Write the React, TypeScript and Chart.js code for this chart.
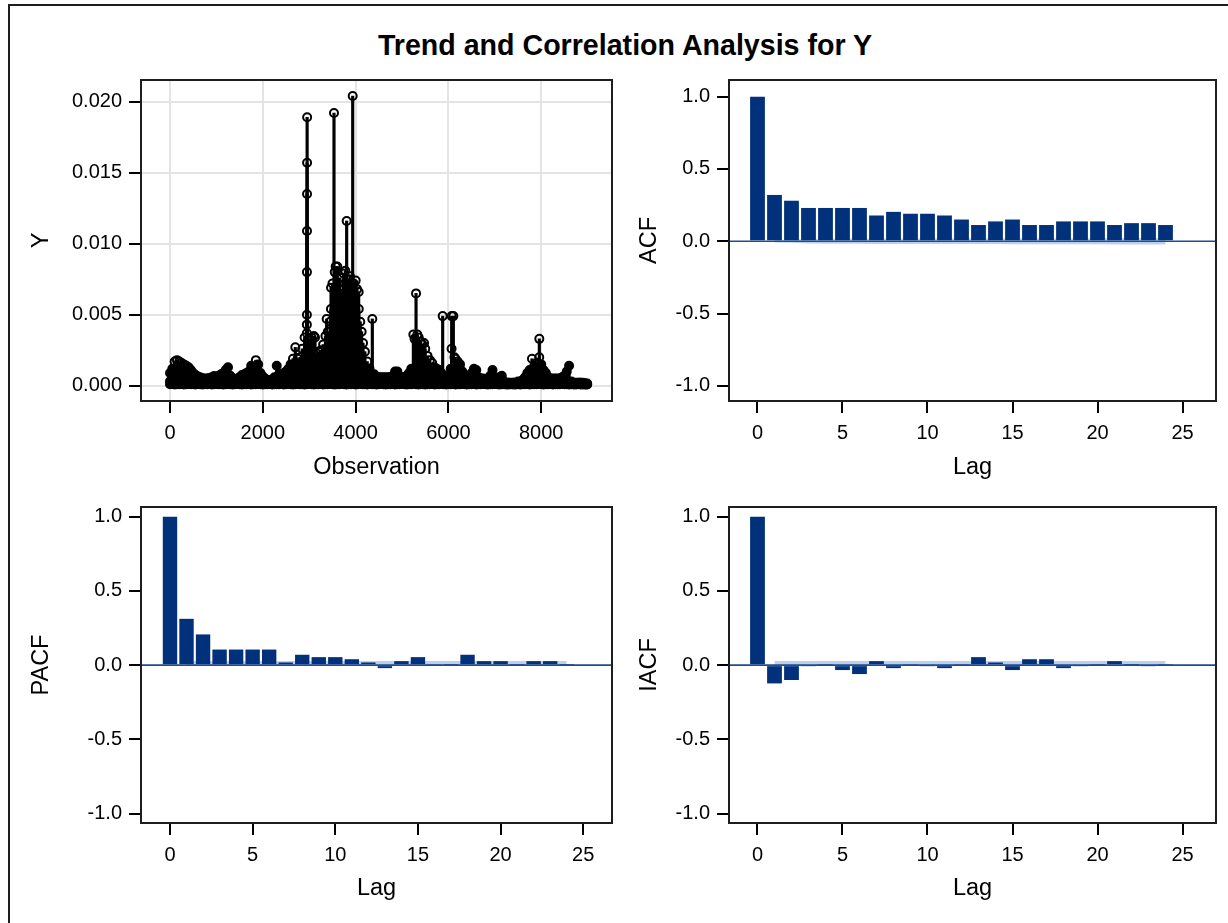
import { useEffect, useRef } from "react";
import { Chart, registerables } from "chart.js";

Chart.register(...registerables);

const FONT = "'Liberation Sans', Arial, Helvetica, sans-serif";
const BAR = "#00317a";
const BAND = "#bdd0ea";
const ZERO = "#1f4a94";
const GRID = "#e4e4e4";

// ---- Trend panel: observation index / Y value ----
const trendPoints: [number, number][] = [
  [0, 0.0009], [50, 0.0012], [100, 0.0017], [150, 0.0018], [200, 0.0017], [250, 0.0016], [300, 0.0015], [350, 0.0014], [400, 0.0013], [450, 0.0011],
  [500, 0.0009], [550, 0.00075], [600, 0.00065], [650, 0.0006], [700, 0.00052], [750, 0.0005], [800, 0.0005], [850, 0.00055], [900, 0.0006], [950, 0.00068],
  [1000, 0.0006], [1050, 0.0007], [1100, 0.0008], [1150, 0.0009], [1200, 0.0011], [1250, 0.0013], [1300, 0.0007], [1350, 0.0005], [1400, 0.0004], [1450, 0.0005],
  [1500, 0.0006], [1550, 0.00075], [1600, 0.0008], [1650, 0.0009], [1700, 0.001], [1750, 0.0014], [1800, 0.0012], [1850, 0.0018], [1900, 0.0015], [1950, 0.0009],
  [2000, 0.00065], [2050, 0.0005], [2100, 0.0004], [2150, 0.0004], [2200, 0.0004], [2250, 0.0006], [2300, 0.0014], [2350, 0.0008], [2400, 0.0008], [2450, 0.0009],
  [2500, 0.001], [2550, 0.0012], [2600, 0.0015], [2650, 0.0019], [2700, 0.0027], [2750, 0.0019], [2800, 0.002], [2850, 0.0026], [2900, 0.0034],
  [2948, 0.0037], [2949, 0.0043], [2950, 0.005], [2951, 0.008], [2952, 0.0109], [2953, 0.0135], [2954, 0.0157], [2955, 0.0189],
  [3000, 0.0033], [3050, 0.0034], [3100, 0.0035], [3125, 0.0034], [3150, 0.0023], [3200, 0.0024], [3250, 0.0025], [3300, 0.0029], [3350, 0.0035],
  [3376, 0.0047], [3400, 0.0038], [3450, 0.0045], [3468, 0.0054], [3470, 0.0069], [3500, 0.0072], [3534, 0.0192], [3550, 0.008], [3570, 0.0084],
  [3606, 0.0084], [3630, 0.0072], [3660, 0.0076], [3700, 0.0068], [3740, 0.0079], [3778, 0.0081], [3807, 0.0116], [3830, 0.0072], [3860, 0.0075],
  [3879, 0.0077], [3910, 0.007], [3937, 0.0204], [3960, 0.0072], [4001, 0.0074], [4030, 0.0068], [4066, 0.0066], [4068, 0.0054],
  [4100, 0.0045], [4130, 0.0038], [4160, 0.003], [4200, 0.0024], [4250, 0.0017], [4300, 0.0012], [4360, 0.0047], [4400, 0.0008], [4450, 0.0006],
  [4500, 0.0006], [4550, 0.0006], [4600, 0.0006], [4650, 0.0006], [4700, 0.0006], [4750, 0.0006], [4800, 0.0007], [4850, 0.001], [4900, 0.001], [4950, 0.0006],
  [5000, 0.0006], [5050, 0.0006], [5100, 0.0007], [5150, 0.0009], [5200, 0.0012], [5244, 0.0036], [5270, 0.0033], [5302, 0.0065], [5330, 0.0036],
  [5360, 0.0034], [5400, 0.0031], [5440, 0.0029], [5475, 0.003], [5500, 0.0026], [5550, 0.0021], [5600, 0.0018], [5650, 0.0016], [5700, 0.0013],
  [5750, 0.0012], [5800, 0.0011], [5850, 0.0009], [5876, 0.0049], [5900, 0.0006], [5950, 0.0006],
  [6000, 0.0007], [6050, 0.0012], [6068, 0.0026], [6070, 0.0049], [6106, 0.0049], [6130, 0.002], [6150, 0.0019], [6200, 0.0017], [6250, 0.0015],
  [6300, 0.001], [6350, 0.0006], [6400, 0.0005], [6450, 0.0006], [6500, 0.0009], [6550, 0.0012], [6600, 0.0011], [6650, 0.0006], [6700, 0.0005],
  [6750, 0.0005], [6800, 0.0004], [6850, 0.0005], [6900, 0.0007], [6950, 0.0011], [7000, 0.0006], [7050, 0.0005], [7100, 0.0006], [7150, 0.0007],
  [7200, 0.0003], [7250, 0.0002], [7300, 0.0002], [7350, 0.0002], [7400, 0.0002], [7450, 0.0002], [7500, 0.0003], [7550, 0.0003], [7600, 0.0004],
  [7650, 0.0006], [7700, 0.0009], [7750, 0.0011], [7800, 0.0019], [7850, 0.0014], [7900, 0.0016], [7957, 0.002], [7959, 0.0033],
  [8000, 0.0015], [8050, 0.0011], [8100, 0.0009], [8150, 0.0006], [8200, 0.0005], [8250, 0.0005], [8300, 0.0005], [8350, 0.0005], [8400, 0.0005],
  [8450, 0.0006], [8500, 0.0007], [8550, 0.001], [8600, 0.0014], [8650, 0.0003], [8700, 0.0002], [8750, 0.0002], [8800, 0.0002], [8850, 0.0002],
  [8900, 0.0002], [8950, 0.0001], [8990, 0.0001],
];

// low-level observations forming the dense dark base band
const baseObs = [
  0, 50, 100, 150, 200, 250, 300, 350, 400, 450,
  500, 550, 600, 650, 700, 750, 800, 850, 900, 950,
  1000, 1050, 1100, 1150, 1200, 1250, 1300, 1350, 1400, 1450,
  1500, 1550, 1600, 1650, 1700, 1750, 1800, 1850, 1900, 1950,
  2000, 2050, 2100, 2150, 2200, 2250, 2300, 2350, 2400, 2450,
  2500, 2550, 2600, 2650, 2700, 2750, 2800, 2850, 2900, 2950,
  3000, 3050, 3100, 3150, 3200, 3250, 3300, 3350, 3400, 3450,
  3500, 3550, 3600, 3650, 3700, 3750, 3800, 3850, 3900, 3950,
  4000, 4050, 4100, 4150, 4200, 4250, 4300, 4350, 4400, 4450,
  4500, 4550, 4600, 4650, 4700, 4750, 4800, 4850, 4900, 4950,
  5000, 5050, 5100, 5150, 5200, 5250, 5300, 5350, 5400, 5450,
  5500, 5550, 5600, 5650, 5700, 5750, 5800, 5850, 5900, 5950,
  6000, 6050, 6100, 6150, 6200, 6250, 6300, 6350, 6400, 6450,
  6500, 6550, 6600, 6650, 6700, 6750, 6800, 6850, 6900, 6950,
  7000, 7050, 7100, 7150, 7200, 7250, 7300, 7350, 7400, 7450,
  7500, 7550, 7600, 7650, 7700, 7750, 7800, 7850, 7900, 7950,
  8000, 8050, 8100, 8150, 8200, 8250, 8300, 8350, 8400, 8450,
  8500, 8550, 8600, 8650, 8700, 8750, 8800, 8850, 8900, 8950,
  8990,
];
const baseLowA = [
  0.0001, 0.00012, 0.00009, 0.00011, 0.0001, 0.00013, 0.00009, 0.0001, 0.00012, 0.0001,
  0.00011, 0.00009, 0.00012, 0.0001, 0.00008, 0.00011, 0.0001, 0.00012, 0.00009, 0.0001,
  0.00012, 0.0001, 0.00011, 0.00009, 0.0001, 0.00012, 0.00011, 0.00009, 0.0001, 0.00012,
  0.0001, 0.00009, 0.00011, 0.0001, 0.00012, 0.00009, 0.0001, 0.00011, 0.00012, 0.0001,
  0.00009, 0.00011, 0.0001, 0.00012, 0.00009, 0.0001, 0.00011, 0.0001, 0.00012, 0.00009,
  0.0001, 0.00012, 0.00011, 0.00009, 0.0001, 0.00012, 0.0001, 0.00011, 0.00009, 0.0001,
  0.00012, 0.0001, 0.00009, 0.00011, 0.0001, 0.00012, 0.00009, 0.0001, 0.00011, 0.00012,
  0.0001, 0.00009, 0.00011, 0.0001, 0.00012, 0.0001, 0.00009, 0.00011, 0.0001, 0.00012,
  0.00009, 0.0001, 0.00012, 0.00011, 0.0001, 0.00009, 0.00012, 0.0001, 0.00011, 0.00009,
  0.0001, 0.00012, 0.0001, 0.00009, 0.00011, 0.0001, 0.00012, 0.00009, 0.0001, 0.00011,
  0.00012, 0.0001, 0.00009, 0.00011, 0.0001, 0.00012, 0.0001, 0.00009, 0.00011, 0.0001,
  0.00009, 0.00011, 0.0001, 0.00012, 0.00009, 0.0001, 0.00011, 0.00012, 0.0001, 0.00009,
  0.00011, 0.0001, 0.00012, 0.00009, 0.0001, 0.00011, 0.00012, 0.0001, 0.00009, 0.00011,
  0.0001, 0.00012, 0.00009, 0.0001, 0.00011, 0.00012, 0.0001, 0.00009, 0.00011, 0.0001,
  0.00012, 0.0001, 0.00009, 0.00011, 0.0001, 0.00009, 0.00008, 0.0001, 0.00009, 0.00008,
  0.0001, 0.00009, 0.00011, 0.0001, 0.00012, 0.00009, 0.0001, 0.00011, 0.0001, 0.00012,
  0.0001, 0.00009, 0.00011, 0.0001, 0.00012, 0.00009, 0.0001, 0.00011, 0.0001, 0.00012,
  0.0001, 0.00011, 0.00009, 0.0001, 0.00009, 0.00008, 0.0001, 0.00009, 0.00008, 0.00009,
  0.00008,
];
const baseLowB = [
  0.00032, 0.0003, 0.00035, 0.00028, 0.00033, 0.0003, 0.00034, 0.00029, 0.00031, 0.00033,
  0.0003, 0.00034, 0.00029, 0.00032, 0.0003, 0.00033, 0.00028, 0.00031, 0.00034, 0.0003,
  0.00033, 0.00029, 0.00031, 0.00034, 0.0003, 0.00032, 0.00035, 0.00029, 0.0003, 0.00033,
  0.00031, 0.00034, 0.0003, 0.00032, 0.00029, 0.00033, 0.00031, 0.0003, 0.00034, 0.00032,
  0.0003, 0.00033, 0.00029, 0.00031, 0.0003, 0.00034, 0.00032, 0.0003, 0.00033, 0.00031,
  0.00034, 0.0003, 0.00032, 0.00035, 0.00031, 0.00033, 0.0003, 0.00034, 0.00032, 0.00031,
  0.00033, 0.0003, 0.00034, 0.00031, 0.00032, 0.0003, 0.00033, 0.00035, 0.00031, 0.00034,
  0.00032, 0.0003, 0.00033, 0.00034, 0.00031, 0.00032, 0.0003, 0.00033, 0.00034, 0.00031,
  0.00032, 0.00034, 0.0003, 0.00033, 0.00031, 0.00032, 0.0003, 0.00034, 0.00031, 0.00033,
  0.0003, 0.00032, 0.00034, 0.00031, 0.0003, 0.00033, 0.00032, 0.0003, 0.00034, 0.00031,
  0.00033, 0.0003, 0.00032, 0.00034, 0.00031, 0.00033, 0.0003, 0.00032, 0.00034, 0.00031,
  0.0003, 0.00033, 0.00032, 0.0003, 0.00034, 0.00031, 0.00033, 0.0003, 0.00032, 0.00031,
  0.00033, 0.0003, 0.00034, 0.00032, 0.00031, 0.00033, 0.0003, 0.00032, 0.00031, 0.00033,
  0.0003, 0.00032, 0.00034, 0.00031, 0.0003, 0.00029, 0.00028, 0.0003, 0.00031, 0.00032,
  0.0003, 0.00029, 0.0003, 0.00028, 0.00022, 0.0002, 0.0002, 0.00019, 0.0002, 0.0002,
  0.00022, 0.00024, 0.0003, 0.00031, 0.00033, 0.0003, 0.00032, 0.00034, 0.00031, 0.00033,
  0.0003, 0.00032, 0.00031, 0.0003, 0.00029, 0.00031, 0.0003, 0.00028, 0.0003, 0.00031,
  0.0003, 0.00032, 0.0003, 0.0002, 0.0002, 0.00019, 0.0002, 0.0002, 0.00019, 0.00018,
  0.00015,
];

// ---- Correlation panels ----
const lags = [0, 1, 2, 3, 4, 5, 6, 7, 8, 9, 10, 11, 12, 13, 14, 15, 16, 17, 18, 19, 20, 21, 22, 23, 24];
const acfValues = [1.0, 0.32, 0.28, 0.23, 0.23, 0.23, 0.23, 0.178, 0.203, 0.19, 0.19, 0.178, 0.15, 0.112, 0.137, 0.15, 0.112, 0.112, 0.137, 0.137, 0.137, 0.112, 0.125, 0.125, 0.112];
const pacfValues = [1.0, 0.312, 0.207, 0.105, 0.105, 0.105, 0.105, 0.018, 0.07, 0.054, 0.054, 0.04, 0.018, -0.02, 0.027, 0.054, 0.004, 0.002, 0.07, 0.027, 0.027, 0.003, 0.027, 0.027, 0.002];
const iacfValues = [1.0, -0.123, -0.1, -0.004, 0.003, -0.033, -0.06, 0.027, -0.02, 0.004, -0.003, -0.02, 0.004, 0.054, 0.018, -0.033, 0.04, 0.04, -0.02, -0.003, 0.003, 0.027, 0.002, -0.002, 0.003];

// two-standard-error bands (lags 1..24)
const bandLags = [1, 2, 3, 4, 5, 6, 7, 8, 9, 10, 11, 12, 13, 14, 15, 16, 17, 18, 19, 20, 21, 22, 23, 24];
const acfBandLower = [-0.008, -0.01, -0.016, -0.017, -0.018, -0.018, -0.019, -0.019, -0.019, -0.02, -0.02, -0.02, -0.02, -0.02, -0.021, -0.021, -0.021, -0.021, -0.021, -0.021, -0.022, -0.022, -0.022, -0.022];
const acfBandUpper = [0.008, 0.01, 0.016, 0.017, 0.018, 0.018, 0.019, 0.019, 0.019, 0.02, 0.02, 0.02, 0.02, 0.02, 0.021, 0.021, 0.021, 0.021, 0.021, 0.021, 0.022, 0.022, 0.022, 0.022];
const wnBandUpper = [0.028, 0.028, 0.028, 0.028, 0.028, 0.028, 0.028, 0.028, 0.028, 0.028, 0.028, 0.028, 0.028, 0.028, 0.028, 0.028, 0.028, 0.028, 0.028, 0.028, 0.028, 0.028, 0.028, 0.028];
const wnBandLower = [-0.003, -0.003, -0.003, -0.003, -0.003, -0.003, -0.003, -0.003, -0.003, -0.003, -0.003, -0.003, -0.003, -0.003, -0.003, -0.003, -0.003, -0.003, -0.003, -0.003, -0.003, -0.003, -0.003, -0.003];

// ---- tick labels ----
const obsTicks = [0, 2000, 4000, 6000, 8000];
const yTicks = [0, 0.005, 0.01, 0.015, 0.02];
const lagTicks = [0, 5, 10, 15, 20, 25];
const corrTicks = [-1, -0.5, 0, 0.5, 1];

const framePlugin = {
  id: "frame",
  afterDraw(chart: any) {
    const { ctx, chartArea: a } = chart;
    ctx.save();
    ctx.strokeStyle = "#1e1e1e";
    ctx.lineWidth = 2;
    ctx.strokeRect(a.left, a.top, a.right - a.left, a.bottom - a.top);
    ctx.restore();
  },
};

const zeroLinePlugin = {
  id: "zeroLine",
  afterDatasetsDraw(chart: any) {
    const { ctx, chartArea: a } = chart;
    const y = chart.scales.y.getPixelForValue(0);
    ctx.save();
    ctx.beginPath();
    ctx.moveTo(a.left, y);
    ctx.lineTo(a.right, y);
    ctx.strokeStyle = ZERO;
    ctx.lineWidth = 1.6;
    ctx.stroke();
    ctx.restore();
  },
};

function axisX(min: number, max: number, ticks: number[], fmt: (v: number) => string, title: string, height: number, titlePad: number, grid: boolean) {
  return {
    type: "linear",
    min,
    max,
    offset: false,
    afterBuildTicks: (s: any) => {
      s.ticks = ticks.map((v) => ({ value: v }));
    },
    afterFit: (s: any) => {
      s.height = height;
    },
    grid: { offset: false, display: true, drawOnChartArea: grid, color: GRID, lineWidth: 2, drawTicks: true, tickLength: 12, tickColor: "#000", tickWidth: 2 },
    border: { display: false },
    ticks: { autoSkip: false, maxRotation: 0, minRotation: 0, padding: 8, color: "#000", font: { family: FONT, size: 20 }, callback: (v: any) => fmt(Number(v)) },
    title: { display: true, text: title, color: "#000", font: { family: FONT, size: 23.5 }, padding: { top: 0, bottom: titlePad } },
  };
}

function axisY(min: number, max: number, ticks: number[], fmt: (v: number) => string, title: string, width: number, titlePad: number, grid: boolean) {
  return {
    type: "linear",
    min,
    max,
    afterBuildTicks: (s: any) => {
      s.ticks = ticks.map((v) => ({ value: v }));
    },
    afterFit: (s: any) => {
      s.width = width;
    },
    grid: { display: true, drawOnChartArea: grid, color: GRID, lineWidth: 2, drawTicks: true, tickLength: 12, tickColor: "#000", tickWidth: 2 },
    border: { display: false },
    ticks: { autoSkip: false, padding: 7, color: "#000", font: { family: FONT, size: 20 }, callback: (v: any) => fmt(Number(v)) },
    title: { display: true, text: title, color: "#000", font: { family: FONT, size: 23.5 }, padding: { top: titlePad, bottom: 0 } },
  };
}

const baseOptions = (rightPad: number) => ({
  responsive: false,
  animation: false,
  events: [],
  layout: { padding: { left: 0, top: 20, right: rightPad, bottom: 0 } },
  plugins: { legend: { display: false }, tooltip: { enabled: false }, title: { display: false } },
});

// markers that sit inside the dense black mass look filled; isolated peaks stay hollow
const markerFill = (ctx: any) => {
  const v = ctx.raw && typeof ctx.raw.y === "number" ? ctx.raw.y : 0;
  return v < 0.0016 ? "#000" : "rgba(0,0,0,0)";
};
const circleStyle = { pointStyle: "circle", pointRadius: 4, borderWidth: 2, borderColor: "#000", backgroundColor: markerFill };
const denseCircleStyle = { pointStyle: "circle", pointRadius: 4, borderWidth: 2, borderColor: "#000", backgroundColor: "#000" };

function trendConfig() {
  const pts = trendPoints.map(([x, y]) => ({ x, y }));
  const lowA = baseObs.map((x, i) => ({ x, y: baseLowA[i] }));
  const lowB = baseObs.map((x, i) => ({ x, y: baseLowB[i] }));
  return {
    type: "bar",
    data: {
      datasets: [
        { type: "bar", data: pts, backgroundColor: "#000", barThickness: 2.5, order: 3, grouped: false },
        { type: "bar", data: lowB, backgroundColor: "#000", barThickness: 2.5, order: 3, grouped: false },
        { type: "scatter", data: lowB, ...denseCircleStyle, order: 2 },
        { type: "scatter", data: lowA, ...denseCircleStyle, order: 2 },
        { type: "scatter", data: pts, ...circleStyle, order: 1 },
      ],
    },
    options: {
      ...baseOptions(38),
      scales: {
        x: axisX(-625, 9525, obsTicks, (v) => String(v), "Observation", 99, 17.9, true),
        y: axisY(-0.001077, 0.021528, yTicks, (v) => v.toFixed(3), "Y", 141, 27.5, true),
      },
    },
    plugins: [framePlugin],
  };
}

function corrConfig(values: number[], upper: number[], lower: number[], yTitle: string, left: boolean, top: boolean) {
  const xMin = left ? -1.754 : -1.676;
  const xMax = left ? 26.74 : 26.97;
  const yMin = top ? -1.105 : -1.063;
  const yMax = top ? 1.115 : 1.065;
  return {
    type: "bar",
    data: {
      datasets: [
        { type: "bar", data: lags.map((l, i) => ({ x: l, y: values[i] })), backgroundColor: BAR, barPercentage: 0.87, categoryPercentage: 1, order: 1 },
        { type: "line", data: bandLags.map((l, i) => ({ x: l, y: upper[i] })), borderWidth: 0, borderColor: "rgba(0,0,0,0)", pointRadius: 0, fill: "+1", backgroundColor: BAND, order: 5 },
        { type: "line", data: bandLags.map((l, i) => ({ x: l, y: lower[i] })), borderWidth: 0, borderColor: "rgba(0,0,0,0)", pointRadius: 0, fill: false, order: 5 },
      ],
    },
    options: {
      ...baseOptions(left ? 38 : 12),
      scales: {
        x: axisX(xMin, xMax, lagTicks, (v) => String(v), "Lag", top ? 99 : 100, top ? 17.9 : 19.9, false),
        y: axisY(yMin, yMax, corrTicks, (v) => v.toFixed(1), yTitle, left ? 141 : 109, left ? 27.5 : 15.5, false),
      },
    },
    plugins: [framePlugin, zeroLinePlugin],
  };
}

function ChartCanvas({ left, top, width, height, build }: { left: number; top: number; width: number; height: number; build: () => any }) {
  const ref = useRef<HTMLCanvasElement>(null);
  useEffect(() => {
    const chart = new Chart(ref.current as HTMLCanvasElement, build());
    return () => chart.destroy();
  }, []);
  return <canvas ref={ref} width={width} height={height} style={{ position: "absolute", left, top, width, height }} />;
}

export default function App() {
  return (
    <div style={{ position: "absolute", left: 0, top: 0, width: 1228, height: 923, overflow: "hidden", background: "#fff" }}>
      <div style={{ position: "absolute", left: 8, top: 4, width: 1230, height: 930, borderLeft: "2px solid #1e1e1e", borderTop: "2px solid #1e1e1e" }} />
      <div
        style={{
          position: "absolute",
          left: 22,
          top: 30.7,
          width: 1206,
          textAlign: "center",
          fontFamily: FONT,
          fontWeight: "bold",
          fontSize: 28.6,
          lineHeight: "28.6px",
          color: "#000",
          whiteSpace: "nowrap",
        }}
      >
        Trend and Correlation Analysis for Y
      </div>
      <ChartCanvas left={0} top={60} width={650} height={440} build={trendConfig} />
      <ChartCanvas left={620} top={60} width={608} height={440} build={() => corrConfig(acfValues, acfBandUpper, acfBandLower, "ACF", false, true)} />
      <ChartCanvas left={0} top={487} width={650} height={436} build={() => corrConfig(pacfValues, wnBandUpper, wnBandLower, "PACF", true, false)} />
      <ChartCanvas left={620} top={487} width={608} height={436} build={() => corrConfig(iacfValues, wnBandUpper, wnBandLower, "IACF", false, false)} />
    </div>
  );
}
